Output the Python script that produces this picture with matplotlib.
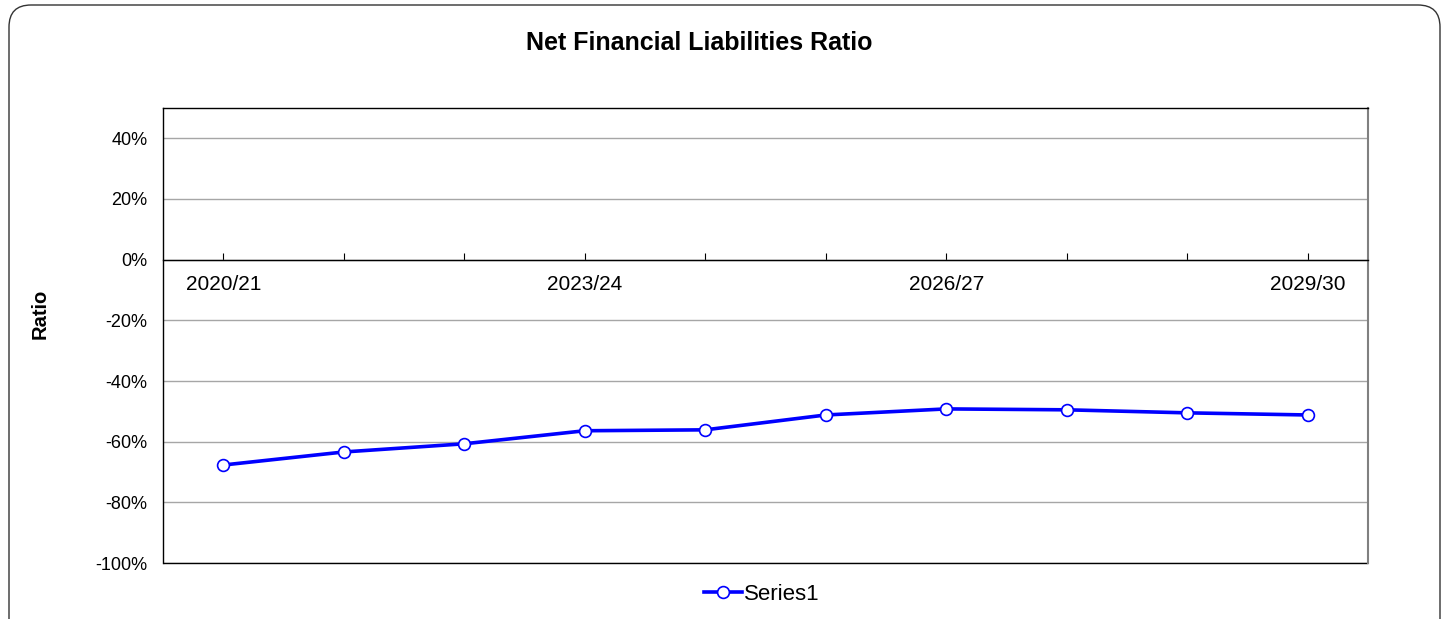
import matplotlib.pyplot as plt
from matplotlib.patches import FancyBboxPatch, Rectangle
from matplotlib.ticker import FuncFormatter

plt.rcParams['font.family'] = ['Liberation Sans', 'DejaVu Sans']

years = ['2020/21', '2021/22', '2022/23', '2023/24', '2024/25',
         '2025/26', '2026/27', '2027/28', '2028/29', '2029/30']
ratio = [-67.7, -63.4, -60.7, -56.4, -56.1, -51.2, -49.2, -49.5, -50.5, -51.2]
shown_labels = ['2020/21', '2023/24', '2026/27', '2029/30']
y_ticks = [-100, -80, -60, -40, -20, 0, 20, 40]

fig = plt.figure(figsize=(14.46, 6.19), dpi=100)

# rounded outer border (pixel coordinates)
border = FancyBboxPatch((9, -30), 1431, 644, boxstyle='round,pad=0,rounding_size=22',
                        transform=None, facecolor='none', edgecolor='#333333',
                        linewidth=1.0)
fig.patches.append(border)

ax = fig.add_axes([163 / 1446, 56 / 619, 1205 / 1446, 455 / 619])

x = list(range(len(years)))
ax.plot(x, ratio, color='#0000ff', linewidth=2.6, marker='o', markersize=8.5,
        markerfacecolor='white', markeredgecolor='#0000ff', markeredgewidth=1.2,
        label='Series1', zorder=3)

ax.set_xlim(-0.5, len(years) - 0.5)
ax.set_ylim(-100, 50)
ax.set_yticks(y_ticks)
ax.yaxis.set_major_formatter(FuncFormatter(lambda v, _: f'{v:.0f}%'))
ax.tick_params(axis='y', length=0, pad=11, labelsize=13)
ax.grid(axis='y', color='#a6a6a6', linewidth=1.0)
ax.set_axisbelow(True)

# category axis sits on the zero line
ax.spines['bottom'].set_position(('data', 0))
ax.spines['bottom'].set_color('black')
ax.spines['bottom'].set_linewidth(1.0)
ax.set_xticks(x)
ax.set_xticklabels([y if y in shown_labels else '' for y in years])
ax.tick_params(axis='x', direction='in', length=5, width=0.8, pad=11, labelsize=15)

for side in ['left', 'top']:
    ax.spines[side].set_color('black')
    ax.spines[side].set_linewidth(1.0)
ax.spines['right'].set_color('#808080')
ax.spines['right'].set_linewidth(1.5)
ax.add_patch(Rectangle((0, 0), 1, 0, transform=ax.transAxes, fill=False,
                       edgecolor='black', linewidth=1.0, clip_on=False))

fig.text(40 / 1446, 1 - 314 / 619, 'Ratio', rotation=90, ha='center', va='center',
         fontsize=14.5, fontweight='bold')
fig.text(699 / 1446, 1 - 43 / 619, 'Net Financial Liabilities Ratio',
         ha='center', va='center', fontsize=18, fontweight='bold')

fig.legend(loc='center', bbox_to_anchor=(762 / 1446, 1 - 594 / 619), frameon=False,
           fontsize=16, handlelength=1.7, handletextpad=0.1)

fig.savefig('out.png', dpi=100)
